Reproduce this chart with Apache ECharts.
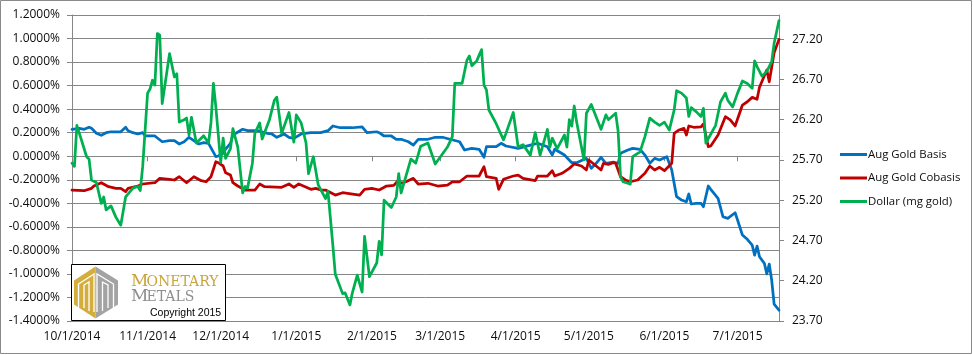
<!DOCTYPE html>
<html>
<head>
<meta charset="utf-8">
<script src="https://cdn.jsdelivr.net/npm/echarts@6/dist/echarts.min.js"></script>
<style>
html,body{margin:0;padding:0;background:#fff;}
#chart{width:973px;height:355px;}
</style>
</head>
<body>
<div id="chart"></div>
<script>
// ---- DATA ----
const START_DATE = '2014-10-01';
const DAY_COUNT = 291; // calendar days on the date axis (10/1/2014 .. 7/18/2015)
const seriesNames = ['Aug Gold Basis', 'Aug Gold Cobasis', 'Dollar (mg gold)'];
const leftTicks = { min: -1.4, max: 1.2, step: 0.2 };
const rightTickLabels = [23.70, 24.20, 24.70, 25.20, 25.70, 26.20, 26.70, 27.20];
const rightRange = { min: 23.7, max: 27.5 };

// [day index from START_DATE, value in %]
const basis = [[0,0.229],[3,0.237],[5,0.229],[7,0.246],[8,0.237],[10,0.195],[12,0.178],[14,0.20],[16,0.208],[20,0.208],[22,0.246],[23,0.217],[25,0.20],[27,0.189],[29,0.20],[30,0.172],[34,0.172],[37,0.123],[40,0.132],[42,0.132],[44,0.104],[46,0.123],[48,0.161],[50,0.132],[52,0.104],[54,0.115],[56,0.11],[59,-0.004],[60,0.002],[62,0.025],[63,0.06],[65,0.11],[66,0.18],[70,0.229],[72,0.217],[76,0.217],[80,0.195],[82,0.189],[84,0.161],[87,0.189],[89,0.161],[91,0.152],[94,0.189],[98,0.20],[102,0.20],[105,0.217],[107,0.257],[110,0.242],[115,0.242],[119,0.25],[121,0.20],[125,0.208],[126,0.20],[128,0.172],[131,0.172],[133,0.144],[135,0.144],[138,0.123],[140,0.095],[142,0.144],[146,0.144],[149,0.161],[152,0.161],[155,0.144],[159,0.123],[161,0.053],[164,0.067],[167,0.059],[169,-0.009],[170,0.081],[174,0.081],[176,0.11],[178,0.087],[183,0.067],[188,0.095],[191,0.11],[195,0.081],[197,0.01],[198,0.059],[202,0.01],[205,-0.055],[207,-0.055],[211,-0.018],[213,-0.103],[215,-0.06],[217,-0.009],[219,-0.06],[222,-0.05],[224,-0.06],[225,0.025],[228,0.053],[230,0.067],[233,0.059],[235,0.01],[237,-0.06],[239,-0.018],[241,-0.032],[244,-0.004],[246,-0.117],[248,-0.344],[250,-0.372],[252,-0.387],[253,-0.321],[254,-0.406],[256,-0.40],[258,-0.40],[259,-0.429],[261,-0.253],[262,-0.281],[265,-0.358],[267,-0.514],[269,-0.528],[272,-0.48],[273,-0.542],[275,-0.67],[277,-0.706],[279,-0.755],[280,-0.84],[281,-0.763],[282,-0.854],[284,-0.91],[285,-1.0],[286,-0.916],[287,-1.053],[288,-1.257],[290,-1.308]];

const cobasis = [[0,-0.287],[5,-0.293],[8,-0.273],[9,-0.253],[12,-0.225],[15,-0.259],[18,-0.273],[20,-0.273],[22,-0.30],[23,-0.273],[27,-0.253],[29,-0.236],[34,-0.225],[36,-0.188],[40,-0.196],[42,-0.202],[44,-0.174],[47,-0.225],[50,-0.174],[53,-0.208],[55,-0.217],[57,-0.174],[59,-0.047],[60,-0.055],[62,-0.083],[63,-0.14],[65,-0.16],[66,-0.225],[68,-0.253],[71,-0.287],[75,-0.287],[77,-0.236],[79,-0.259],[86,-0.264],[89,-0.236],[91,-0.264],[93,-0.236],[98,-0.281],[100,-0.273],[102,-0.287],[104,-0.287],[108,-0.33],[111,-0.31],[113,-0.315],[118,-0.33],[120,-0.281],[123,-0.273],[126,-0.287],[129,-0.253],[132,-0.248],[134,-0.202],[135,-0.23],[137,-0.217],[140,-0.188],[142,-0.236],[146,-0.23],[150,-0.253],[154,-0.245],[156,-0.217],[159,-0.217],[162,-0.168],[167,-0.168],[169,-0.089],[170,-0.174],[174,-0.188],[175,-0.281],[177,-0.196],[181,-0.168],[183,-0.16],[185,-0.188],[190,-0.208],[191,-0.168],[195,-0.168],[197,-0.123],[198,-0.168],[201,-0.145],[204,-0.103],[206,-0.066],[209,-0.083],[211,-0.117],[212,-0.032],[214,-0.066],[217,-0.117],[218,-0.06],[220,-0.069],[222,-0.055],[223,-0.06],[225,-0.174],[227,-0.202],[229,-0.217],[232,-0.202],[235,-0.145],[237,-0.083],[239,-0.117],[241,-0.094],[243,-0.123],[246,-0.06],[247,0.195],[249,0.223],[251,0.237],[252,0.18],[253,0.257],[255,0.246],[258,0.25],[259,0.274],[261,0.081],[262,0.087],[265,0.18],[268,0.336],[270,0.308],[272,0.257],[275,0.435],[277,0.463],[279,0.50],[281,0.484],[282,0.586],[285,0.733],[286,0.633],[288,0.88],[290,0.993]];

// [day index, mg of gold per dollar]
const dollar = [[0,25.66],[1,25.62],[2,26.13],[6,25.74],[7,25.71],[8,25.45],[10,25.42],[12,25.16],[13,25.24],[14,25.08],[16,25.13],[18,24.99],[20,24.89],[22,25.24],[25,25.35],[27,25.37],[28,25.32],[29,25.62],[31,26.53],[32,26.58],[33,26.69],[34,26.63],[35,27.27],[36,27.25],[37,26.40],[40,27.02],[42,26.73],[43,26.77],[44,26.17],[46,26.20],[47,26.22],[48,26.01],[49,26.23],[51,25.91],[54,26.00],[56,25.91],[57,26.16],[58,26.65],[59,26.36],[61,25.67],[62,25.97],[63,25.72],[65,25.84],[66,26.09],[68,25.86],[70,25.29],[71,25.37],[72,25.35],[74,25.66],[75,26.03],[77,26.16],[78,25.96],[81,26.20],[83,26.44],[84,26.48],[86,26.03],[89,26.29],[91,25.92],[92,26.26],[94,26.16],[96,25.91],[97,25.53],[99,25.74],[101,25.39],[104,25.22],[105,25.31],[107,24.64],[108,24.28],[111,24.04],[112,24.05],[114,23.90],[115,24.05],[117,24.27],[119,24.06],[120,24.75],[122,24.25],[125,24.42],[126,24.69],[127,24.52],[128,25.20],[131,25.11],[133,25.24],[134,25.53],[135,25.29],[139,25.71],[141,25.66],[143,25.87],[146,25.91],[149,25.65],[154,25.86],[156,25.99],[157,26.65],[160,26.65],[162,26.94],[163,26.99],[164,26.87],[166,26.93],[168,27.07],[169,26.63],[170,26.57],[171,26.32],[174,26.15],[177,25.95],[178,26.03],[181,26.29],[183,25.86],[185,25.89],[188,25.76],[190,26.04],[192,25.76],[195,26.08],[196,25.86],[197,25.97],[199,25.84],[202,26.01],[203,25.86],[204,26.20],[205,26.12],[206,26.37],[207,26.17],[210,25.70],[211,26.28],[213,26.39],[217,26.08],[219,26.26],[220,26.20],[223,26.28],[224,26.06],[225,25.49],[226,25.43],[228,25.41],[229,25.40],[230,25.74],[233,25.80],[235,25.99],[237,26.22],[239,26.17],[241,26.13],[243,26.17],[245,26.07],[247,26.32],[248,26.56],[250,26.53],[252,26.47],[253,26.24],[254,26.35],[256,26.30],[258,26.24],[259,26.34],[260,25.91],[264,26.13],[266,26.42],[268,26.53],[269,26.44],[271,26.36],[273,26.53],[275,26.68],[277,26.65],[279,26.59],[280,26.93],[281,26.86],[283,26.74],[285,26.80],[287,26.92],[288,27.15],[290,27.43]];

// ---- BUILD ----
const dates = [];
(function () {
  const t0 = Date.parse(START_DATE + 'T00:00:00Z');
  for (let i = 0; i < DAY_COUNT; i++) {
    const d = new Date(t0 + i * 86400000);
    dates.push((d.getUTCMonth() + 1) + '/' + d.getUTCDate() + '/' + d.getUTCFullYear());
  }
})();
const isMonthStart = (idx, val) => String(val).split('/')[1] === '1';

const GRID = '#868686';
const TXT = '#0d0d0d';
const FONT = 'Open Sans';
const colors = ['#0070C0', '#C00000', '#00B050'];

const chart = echarts.init(document.getElementById('chart'), null, { renderer: 'canvas' });

const lineSeries = (name, data, color, yIdx) => ({
  name, type: 'line', data, yAxisIndex: yIdx,
  showSymbol: false, symbol: 'none', color,
  lineStyle: { color, width: 2.75, join: 'round', cap: 'round' },
  emphasis: { disabled: true }, animation: false
});

chart.setOption({
  animation: false,
  backgroundColor: '#fff',
  grid: { left: 72, top: 15, width: 707, height: 306, containLabel: false },
  legend: {
    orient: 'vertical', left: 835, top: 144, itemWidth: 27, itemHeight: 3, itemGap: 12.5,
    icon: 'rect', selectedMode: false,
    textStyle: { fontFamily: FONT, fontSize: 11.4, color: TXT, padding: [0, 0, 0, -4] },
    data: seriesNames
  },
  xAxis: {
    type: 'category', data: dates, boundaryGap: false,
    axisLine: { lineStyle: { color: GRID, width: 1 } },
    axisTick: { show: true, interval: isMonthStart, length: 5, lineStyle: { color: GRID } },
    axisLabel: { interval: isMonthStart, margin: 10, fontFamily: FONT, fontSize: 12, color: TXT },
    splitLine: { show: false }
  },
  yAxis: [
    {
      type: 'value', position: 'left',
      min: leftTicks.min, max: leftTicks.max, interval: leftTicks.step,
      axisLine: { show: true, lineStyle: { color: GRID } },
      axisTick: { show: true, length: 5, lineStyle: { color: GRID } },
      splitLine: { show: true, lineStyle: { color: GRID, width: 1 } },
      axisLabel: {
        margin: 12, fontFamily: FONT, fontSize: 12, color: TXT,
        formatter: v => (Math.abs(v) < 1e-9 ? 0 : v).toFixed(4) + '%'
      }
    },
    {
      type: 'value', position: 'right',
      min: rightRange.min, max: rightRange.max,
      axisLine: { show: true, lineStyle: { color: GRID } },
      axisTick: { show: true, length: 5, customValues: rightTickLabels, lineStyle: { color: GRID } },
      splitLine: { show: false },
      axisLabel: {
        customValues: rightTickLabels, margin: 13, fontFamily: FONT, fontSize: 12, color: TXT,
        formatter: v => Number(v).toFixed(2)
      }
    }
  ],
  series: [
    lineSeries(seriesNames[0], basis, colors[0], 0),
    lineSeries(seriesNames[1], cobasis, colors[1], 0),
    lineSeries(seriesNames[2], dollar, colors[2], 1)
  ],
  graphic: [
    { type: 'rect', silent: true, z: 200, shape: { x: 0.5, y: 0.5, width: 971, height: 353 },
      style: { fill: 'none', stroke: '#8a8a8a', lineWidth: 1 } },
    { type: 'rect', silent: true, z: 100, shape: { x: 71.5, y: 264.5, width: 154, height: 56 },
      style: { fill: '#fff', stroke: '#000', lineWidth: 1 } },
    { type: 'polygon', silent: true, z: 101,
      shape: { points: [[95.5, 266.5], [74, 280.5], [74, 304.5], [95.5, 318.5]] },
      style: { fill: '#D3AE3C' } },
    { type: 'polygon', silent: true, z: 101,
      shape: { points: [[95.5, 266.5], [118, 280.5], [118, 304.5], [95.5, 318.5]] },
      style: { fill: '#A3A3A3' } },
    { type: 'polyline', silent: true, z: 102,
      shape: { points: [[78.5, 311], [78.5, 284], [94, 274], [94, 312]] },
      style: { stroke: '#fff', lineWidth: 1.3, fill: 'none' } },
    { type: 'polyline', silent: true, z: 102,
      shape: { points: [[84, 308], [84, 285], [89, 282], [89, 311]] },
      style: { stroke: '#fff', lineWidth: 1.3, fill: 'none' } },
    { type: 'polyline', silent: true, z: 102,
      shape: { points: [[97, 312], [97, 274], [113.5, 284], [113.5, 311]] },
      style: { stroke: '#fff', lineWidth: 1.3, fill: 'none' } },
    { type: 'polyline', silent: true, z: 102,
      shape: { points: [[102.5, 311], [102.5, 282], [108, 285], [108, 308]] },
      style: { stroke: '#fff', lineWidth: 1.3, fill: 'none' } },
    { type: 'text', silent: true, z: 103,
      style: { x: 131, y: 290, text: 'M', font: '17px "DejaVu Serif"', fill: '#C9A43C', textVerticalAlign: 'bottom' } },
    { type: 'text', silent: true, z: 103,
      style: { x: 146.5, y: 289.3, text: 'ONETARY', font: '14px "DejaVu Serif"', fill: '#C9A43C', textVerticalAlign: 'bottom' } },
    { type: 'text', silent: true, z: 103,
      style: { x: 131, y: 305.5, text: 'M', font: '17px "DejaVu Serif"', fill: '#8E8E8E', textVerticalAlign: 'bottom' } },
    { type: 'text', silent: true, z: 103,
      style: { x: 146.5, y: 304.8, text: 'ETALS', font: '14px "DejaVu Serif"', fill: '#8E8E8E', textVerticalAlign: 'bottom' } },
    { type: 'text', silent: true, z: 103,
      style: { x: 150, y: 319, text: 'Copyright 2015', font: '10.5px "Liberation Sans"', fill: '#000', textVerticalAlign: 'bottom' } }
  ]
});
</script>
</body>
</html>
